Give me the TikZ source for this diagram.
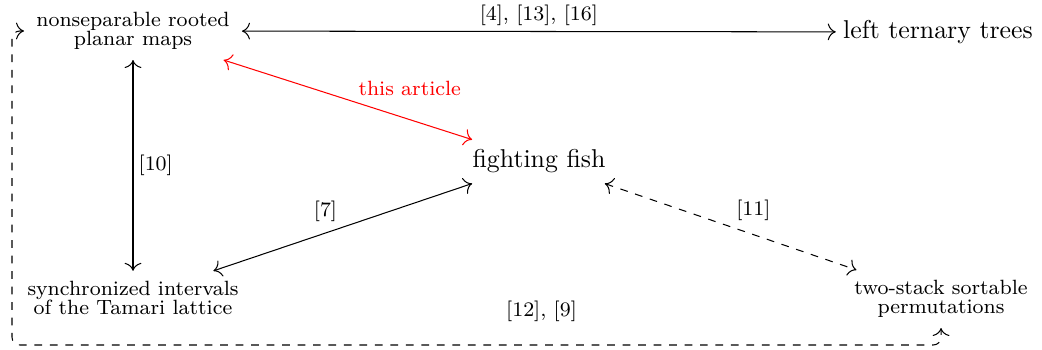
\documentclass[tikz,border=0pt]{standalone}
\usetikzlibrary{arrows.meta}
\begin{document}
\begin{tikzpicture}[x=0.3876pt,y=-0.3876pt,
  small/.style={inner xsep=4.6pt, inner ysep=3.8pt, align=center, font=\footnotesize},
  big/.style={inner sep=2.7pt},
  lab/.style={font=\footnotesize, inner sep=2pt},
  arr/.style={{To[scale=1.25]}-{To[scale=1.25]}}]
\useasboundingbox (0,0) rectangle (1042,350);
\node[small] (ns) at (133,31) {nonseparable rooted\\[-2.1pt]planar maps};
\node[big] (lt) at (938,32) {left ternary trees};
\node[big, inner xsep=0pt, inner ysep=4pt] (ff) at (539,161) {fighting fish};
\node[small] (si) at (133,298) {synchronized intervals\\[-2.1pt]of the Tamari lattice};
\node[small] (ts) at (941,299) {two-stack sortable\\[-2.1pt]permutations};
\coordinate (bl) at (12,345);
\draw[arr] (ns) -- node[lab, above]{[4], [13], [16]} (lt);
\draw[arr] (ns) -- node[lab, right]{[10]} (si);
\draw[arr, red] (ns) -- node[lab, pos=0.52, anchor=south west]{this article} (ff);
\draw[arr] (si) -- node[lab, above left]{[7]} (ff);
\draw[arr, dashed] (ff) -- node[lab, above right]{[11]} (ts);
\draw[arr, dashed, rounded corners=3pt] (ns.west) -| (bl) -| node[lab, pos=0.285, above=7pt]{[12], [9]} (ts.south);
\end{tikzpicture}
\end{document}
